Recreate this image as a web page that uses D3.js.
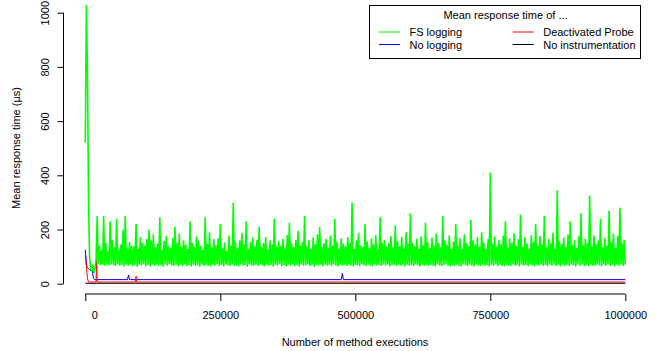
<!DOCTYPE html>
<html>
<head>
<meta charset="utf-8">
<script src="https://cdn.jsdelivr.net/npm/d3@7"></script>
<style>
  html, body { margin: 0; padding: 0; background: #fff; }
  svg { display: block; font-family: "Liberation Sans", Arial, Helvetica, sans-serif; }
</style>
</head>
<body>
<div id="chart"></div>
<script>
// tick labels
const xTicks = [0, 250000, 500000, 750000, 1000000];
const yTicks = [0, 200, 400, 600, 800, 1000];

// FS logging: one mean every 2000 method executions
const fsStep = 2000;
const fsLogging = [
  520,1028,785,310,95,60,45,70,40,55,90,250,72,140,68,125,70,250,66,150,
  70,118,67,230,70,160,68,135,65,240,72,125,66,145,69,200,64,250,70,130,
  66,155,71,140,65,138,68,220,63,128,70,172,67,150,72,142,65,165,69,200,
  64,160,70,182,66,135,71,148,65,245,68,125,63,158,70,176,66,140,72,132,
  67,168,65,210,70,150,64,185,69,138,66,160,71,145,65,128,68,230,64,150,
  70,136,66,175,68,158,63,140,71,126,65,245,69,148,67,190,64,133,70,165,
  66,142,72,168,65,220,69,130,64,152,70,120,67,178,65,140,71,300,66,155,
  68,132,64,160,70,188,66,145,69,230,63,128,71,155,67,170,65,138,70,162,
  65,210,71,136,67,150,64,172,70,126,66,160,69,145,63,240,70,138,66,158,
  72,140,65,166,69,130,64,180,70,225,66,148,71,135,65,162,68,195,64,142,
  70,155,66,250,68,138,72,160,65,128,69,170,63,146,70,182,66,210,71,136,
  64,150,70,165,66,132,69,178,65,140,71,240,67,155,64,130,70,168,66,148,
  69,138,65,172,71,150,66,300,64,128,70,160,67,186,65,142,72,135,68,220,
  65,156,70,132,66,168,64,145,71,180,67,126,69,245,65,150,70,162,66,138,
  71,150,64,176,68,134,70,215,65,158,69,140,66,172,71,130,64,190,70,146,
  66,260,69,152,65,138,71,166,67,128,64,175,70,143,66,225,69,155,65,132,
  70,170,66,140,64,185,71,150,67,134,65,250,69,160,72,144,66,178,64,128,
  69,156,65,220,70,142,66,168,64,130,71,182,67,150,65,138,70,235,66,160,
  64,145,71,172,67,136,65,190,70,152,66,128,69,165,64,410,70,148,66,175,
  71,138,65,160,69,146,66,178,64,230,70,132,67,168,65,150,71,186,66,140,
  68,164,64,255,70,136,66,172,69,148,65,130,71,180,67,155,64,220,70,142,
  66,176,71,145,65,250,69,134,64,166,70,150,66,188,71,128,65,345,69,156,
  64,148,70,170,66,136,68,182,65,230,71,144,67,160,64,132,70,175,66,260,
  71,142,65,166,69,150,64,325,70,138,66,178,65,146,71,160,67,240,64,134,
  70,168,66,140,71,270,65,155,69,185,64,132,70,176,66,280,71,148,65,162,
  70
];

// No logging
const noLoggingExec = [0, 2000, 3000, 6000, 9000, 13000, 15000, 17000, 78000, 80000, 82000, 474000, 476000, 478000, 1000000];
const noLogging     = [125, 80, 62, 55, 50, 48, 20, 15, 15, 32, 15, 15, 38, 15, 15];

// Deactivated Probe
const probeExec = [0, 2000, 4000, 6000, 20000, 21000, 22000, 93000, 94000, 95000, 1000000];
const probe     = [112, 60, 20, 6, 6, 112, 6, 6, 28, 6, 6];

// No instrumentation
const noInstrExec = [0, 1000, 1000000];
const noInstr     = [4, 1.5, 1.5];

const legendTitle = "Mean response time of ...";
const legendNames = ["FS logging", "No logging", "Deactivated Probe", "No instrumentation"];

const W = 657, H = 351;
const svg = d3.select("#chart").append("svg").attr("width", W).attr("height", H);

const x = d3.scaleLinear().domain([0, 1000000]).range([85.3, 625.3]);
const y = d3.scaleLinear().domain([0, 1000]).range([283.7, 12.7]);

const line = d3.line().x(d => x(d[0])).y(d => y(d[1]));
const pairs = (xs, ys) => xs.map((v, i) => [v, ys[i]]);

const colors = { fs: "#00ff00", nolog: "#0000ff", probe: "#ff0000", noinstr: "#000000" };

// series (drawn back to front)
svg.append("path").datum(pairs(noInstrExec, noInstr))
  .attr("d", line).attr("fill", "none").attr("stroke", colors.noinstr).attr("stroke-width", 1);
svg.append("path").datum(pairs(noLoggingExec, noLogging))
  .attr("d", line).attr("fill", "none").attr("stroke", colors.nolog).attr("stroke-width", 1);
svg.append("path").datum(pairs(probeExec, probe))
  .attr("d", line).attr("fill", "none").attr("stroke", colors.probe).attr("stroke-width", 1);
svg.append("path").datum(fsLogging.map((v, i) => [i * fsStep, v]))
  .attr("d", line).attr("fill", "none").attr("stroke", colors.fs).attr("stroke-width", 1.6)
  .attr("stroke-linejoin", "miter").attr("stroke-miterlimit", 1);

// Y axis (R style: line only between first and last tick, vertical labels)
const yAxis = svg.append("g").attr("transform", "translate(63.5,0)")
  .call(d3.axisLeft(y).tickValues(yTicks).tickSize(6).tickSizeOuter(0).tickPadding(0).tickFormat(d3.format("d")));
yAxis.select(".domain").attr("d", `M0,${y(0)}V${y(1000)}`).attr("stroke", "#000");
yAxis.selectAll(".tick line").attr("stroke", "#000");
yAxis.selectAll(".tick text")
  .attr("x", null).attr("dy", null)
  .attr("text-anchor", "middle")
  .attr("transform", "translate(-15,0) rotate(-90)")
  .attr("font-size", 11).attr("font-family", "Liberation Sans, Arial, sans-serif")
  .attr("fill", "#000");

// X axis, offset below the plot
const xAxis = svg.append("g").attr("transform", "translate(0,294)")
  .call(d3.axisBottom(x).tickValues(xTicks).tickSize(7).tickSizeOuter(0).tickPadding(0).tickFormat(d3.format("d")));
xAxis.select(".domain").attr("d", `M${x(0)},0H${x(1000000)}`).attr("stroke", "#000");
xAxis.selectAll(".tick line").attr("stroke", "#000");
xAxis.selectAll(".tick text")
  .attr("y", 25).attr("dy", null)
  .attr("dx", (d, i) => i === 0 ? 9 : 0)
  .attr("font-size", 11).attr("font-family", "Liberation Sans, Arial, sans-serif")
  .attr("fill", "#000");

// axis titles
svg.append("text")
  .attr("x", 355).attr("y", 345.5).attr("text-anchor", "middle")
  .attr("font-size", 11).text("Number of method executions");
svg.append("text")
  .attr("transform", "translate(19.5,148) rotate(-90)").attr("text-anchor", "middle")
  .attr("font-size", 11).text("Mean response time (\u00b5s)");

// legend
const lg = svg.append("g");
lg.append("rect").attr("x", 369.5).attr("y", 5.5).attr("width", 271).attr("height", 53)
  .attr("fill", "#fff").attr("stroke", "#000").attr("stroke-width", 1);
lg.append("text").attr("x", 505.5).attr("y", 19).attr("text-anchor", "middle")
  .attr("font-size", 11).text(legendTitle);

const legendItems = [
  { name: legendNames[0], color: colors.fs,      col: 0, row: 0 },
  { name: legendNames[1], color: colors.nolog,   col: 0, row: 1 },
  { name: legendNames[2], color: colors.probe,   col: 1, row: 0 },
  { name: legendNames[3], color: colors.noinstr, col: 1, row: 1 }
];
const colX = [379, 512.7];
const rowY = [32, 44.5];
const item = lg.selectAll(".item").data(legendItems).enter().append("g").attr("class", "item");
item.append("line")
  .attr("x1", d => colX[d.col]).attr("x2", d => colX[d.col] + 21)
  .attr("y1", d => rowY[d.row]).attr("y2", d => rowY[d.row])
  .attr("stroke", d => d.color).attr("stroke-width", 1);
item.append("text")
  .attr("x", d => colX[d.col] + 30.5).attr("y", d => rowY[d.row] + 4)
  .attr("font-size", 11).text(d => d.name);
</script>
</body>
</html>
